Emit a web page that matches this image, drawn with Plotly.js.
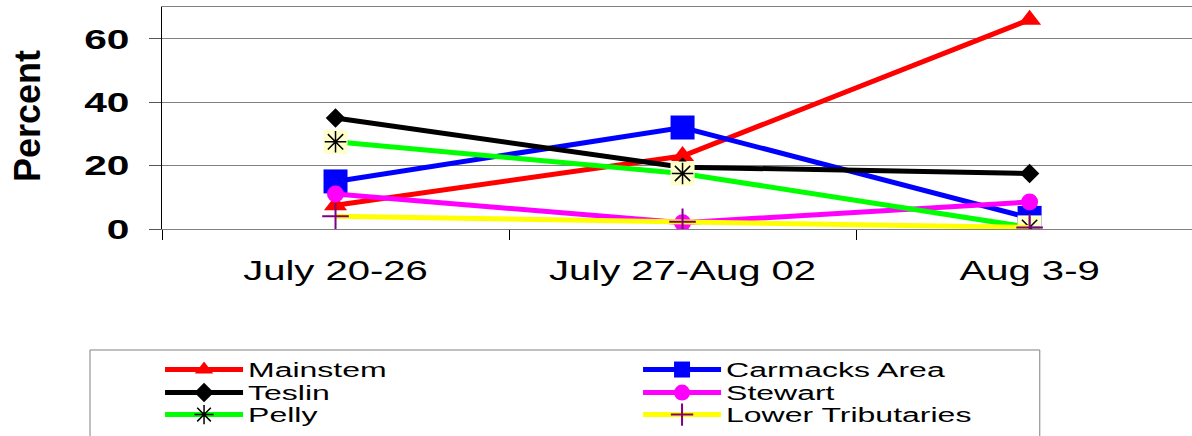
<!DOCTYPE html>
<html><head><meta charset="utf-8">
<script src="https://cdn.plot.ly/plotly-3.0.1.min.js"></script>
<style>
html,body{margin:0;padding:0;background:#fff;overflow:hidden}
#chart{width:1192px;height:436px}
#chart g[class*="legend"] text{transform:scaleX(1.6);transform-box:fill-box;transform-origin:0 50%}
</style>
</head><body><div id="chart"></div>
<script>
const weeks = ['July 20-26', 'July 27-Aug 02', 'Aug 3-9'];
const mainstem = [7.5, 23, 66];
const carmacks = [15, 32, 3.5];
const teslin = [35, 19.5, 17.5];
const stewart = [11, 2, 8.5];
const pelly = [27.5, 17.5, 0.5];
const lowerTribs = [4, 2.3, 0.5];
const yTicks = [0, 20, 40, 60];
const seriesNames = ['Mainstem', 'Carmacks Area', 'Teslin', 'Stewart', 'Pelly', 'Lower Tributaries'];

const LW = 5;
const traces = [
  {name: seriesNames[0], x: weeks, y: mainstem, mode: 'lines+markers', legend: 'legend',
   line: {color: '#FF0000', width: LW}, marker: {symbol: 'triangle-up', size: 20, color: '#FF0000'}},
  {name: seriesNames[1], x: weeks, y: carmacks, mode: 'lines+markers', legend: 'legend',
   line: {color: '#0000FF', width: LW}, marker: {symbol: 'square', size: 24, color: '#0000FF'}},
  {name: seriesNames[2], x: weeks, y: teslin, mode: 'lines+markers', legend: 'legend2',
   line: {color: '#000000', width: LW}, marker: {symbol: 'diamond', size: 15, color: '#000000'}},
  {name: seriesNames[3], x: weeks, y: stewart, mode: 'lines+markers', legend: 'legend2',
   line: {color: '#FF00FF', width: LW}, marker: {symbol: 'circle', size: 17, color: '#FF00FF'}},
  {name: seriesNames[4], x: weeks, y: pelly, mode: 'lines+markers', legend: 'legend3',
   line: {color: '#00FF00', width: LW}, marker: {symbol: 'asterisk-open', size: 18, color: '#000000', line: {color: '#000000', width: 1.5}}},
  {name: seriesNames[4] + ' box', x: weeks, y: pelly, mode: 'markers', showlegend: false, hoverinfo: 'skip',
   marker: {symbol: 'square', size: 24, color: '#FFFFCC'}},
  {name: seriesNames[4] + ' star', x: weeks, y: pelly, mode: 'markers', showlegend: false, hoverinfo: 'skip',
   marker: {symbol: 'asterisk-open', size: 18, color: '#000000', line: {color: '#000000', width: 1.5}}},
  {name: seriesNames[5], x: weeks, y: lowerTribs, mode: 'lines+markers', legend: 'legend3',
   line: {color: '#FFFF00', width: LW}, marker: {symbol: 'cross-thin-open', size: 19, color: '#800080', line: {color: '#800080', width: 2}}}
];

const FAM = 'Arial, Liberation Sans, sans-serif';
function leg(yv) {
  return {orientation: 'h', x: -0.0019, xanchor: 'left', y: yv, yanchor: 'middle', itemwidth: 78,
    entrywidth: 385, entrywidthmode: 'pixels',
    font: {family: FAM, size: 20, color: '#000'},
    bgcolor: 'rgba(0,0,0,0)', borderwidth: 0, itemclick: false, itemdoubleclick: false};
}

const layout = {
  width: 1192, height: 436,
  font: {family: FAM, size: 20, color: '#000'},
  margin: {l: 162, r: 0, t: 7, b: 207, pad: 0, autoexpand: false},
  paper_bgcolor: '#fff', plot_bgcolor: '#fff',
  showlegend: true,
  xaxis: {type: 'category', categoryorder: 'array', categoryarray: weeks, range: [-0.5, 2.468],
    tickson: 'boundaries', ticks: 'outside', ticklen: 10, tickwidth: 1, tickcolor: '#000',
    showgrid: false, zeroline: false, showline: true, linecolor: '#808080', linewidth: 1, mirror: true,
    tickfont: {family: FAM, size: 28, color: '#000'}, ticklabelstandoff: 16,
    fixedrange: true},
  yaxis: {range: [0, 70], tickmode: 'array', tickvals: yTicks, ticktext: yTicks.map(String),
    ticks: 'outside', ticklen: 12, tickwidth: 1, tickcolor: '#555',
    showgrid: true, gridcolor: '#808080', gridwidth: 1, zeroline: false,
    showline: true, linecolor: '#000', linewidth: 1,
    tickfont: {family: FAM, size: 28, color: '#000', weight: 'bold'},
    ticklabelstandoff: 14, fixedrange: true},
  legend: leg(-0.633),
  legend2: leg(-0.737),
  legend3: leg(-0.836),
  annotations: [{text: 'Percent', xref: 'paper', yref: 'paper', x: -0.131, y: 0.509, xanchor: 'center', yanchor: 'middle',
    textangle: -90, showarrow: false, font: {family: FAM, size: 36, color: '#000', weight: 'bold'}}],
  shapes: [{type: 'rect', xref: 'paper', yref: 'paper', x0: -0.0699, x1: 0.8522, y0: -0.545, y1: -0.99,
    line: {color: '#808080', width: 1}, fillcolor: 'rgba(0,0,0,0)', layer: 'below'}]
};

function stretchEl(t, k) {
  const txt = t.textContent;
  if (t.getAttribute('data-st') === txt) return;
  t.removeAttribute('textLength');
  const w = t.getComputedTextLength();
  if (w > 0) {
    t.setAttribute('textLength', (w * k).toFixed(1));
    t.setAttribute('lengthAdjust', 'spacingAndGlyphs');
    t.setAttribute('data-st', txt);
  }
}
function stretch(sel, k) {
  document.querySelectorAll(sel).forEach(t => stretchEl(t, k));
}
const CSS_LEG = '#chart g[class*="legend"] text';
function stretchAll() {
  stretch('.xtick text', 1.43);
  stretch('.ytick text', 1.45);
  // fallback for legend names not reached by the CSS rule
  document.querySelectorAll('#chart text').forEach(t => {
    if (seriesNames.indexOf(t.textContent) >= 0 && !t.matches(CSS_LEG)) stretchEl(t, 1.6);
  });
}

const gd = document.getElementById('chart');
const obs = new MutationObserver(() => stretchAll());
obs.observe(gd, {childList: true, subtree: true, characterData: true});
Plotly.newPlot(gd, traces, layout, {displayModeBar: false, staticPlot: true}).then(() => {
  stretchAll();
  gd.on('plotly_afterplot', stretchAll);
  requestAnimationFrame(stretchAll);
  setTimeout(stretchAll, 50);
});
</script>
</body></html>
